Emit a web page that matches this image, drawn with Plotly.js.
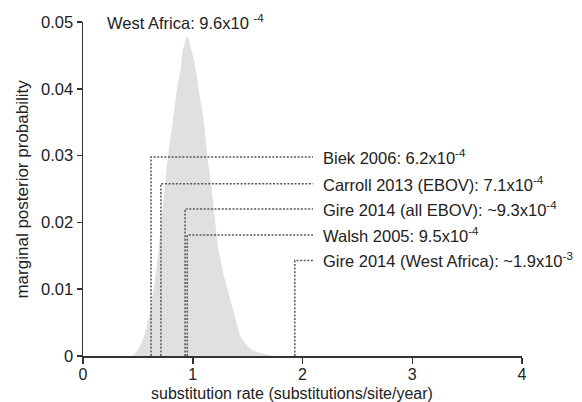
<!DOCTYPE html>
<html>
<head>
<meta charset="utf-8">
<script src="https://cdn.plot.ly/plotly-3.0.1.min.js"></script>
<style>html,body{margin:0;padding:0;background:#fff;}#chart{width:582px;height:402px;}</style>
</head>
<body>
<div id="chart"></div>
<script>
// Posterior density of substitution rate (x1e-3 substitutions/site/year)
const rateX = [0.45, 0.50, 0.556, 0.608, 0.656, 0.686, 0.745, 0.778, 0.82, 0.86, 0.89, 0.905, 0.95, 0.995, 1.03, 1.05, 1.10, 1.13, 1.17, 1.24, 1.294, 1.377, 1.437, 1.54, 1.75];
const densityY = [0, 0.0009, 0.0029, 0.0064, 0.0114, 0.0154, 0.0253, 0.0304, 0.0353, 0.0403, 0.0428, 0.0454, 0.0478, 0.0454, 0.0428, 0.0403, 0.0353, 0.0304, 0.0253, 0.0154, 0.0114, 0.0064, 0.0029, 0.0009, 0];

// Published estimates
const refLabels = [
  "Biek 2006: 6.2x10<sup>-4</sup>",
  "Carroll 2013 (EBOV): 7.1x10<sup>-4</sup>",
  "Gire 2014 (all EBOV): ~9.3x10<sup>-4</sup>",
  "Walsh 2005: 9.5x10<sup>-4</sup>",
  "Gire 2014 (West Africa): ~1.9x10<sup>-3</sup>"
];
const refRates = [0.62, 0.71, 0.93, 0.95, 1.93];

const mainLabel = "West Africa: 9.6x10 <sup>-4</sup>";
const xTitle = "substitution rate (substitutions/site/year)";
const yTitle = "marginal posterior probability";
const xTicks = [0, 1, 2, 3, 4];
const yTicks = [0, 0.01, 0.02, 0.03, 0.04, 0.05];
const yTickText = ["0", "0.01", "0.02", "0.03", "0.04", "0.05"];

// layout constants (label rows and leader line end)
const labelLevels = [0.0298, 0.0258, 0.0220, 0.0181, 0.0143];
const leaderEnd = 2.096;
const labelX = 2.17;

const FONT = "Liberation Sans, Arial, Helvetica, sans-serif";
const INK = "#222";
const traces = [{
  x: rateX, y: densityY, type: "scatter", mode: "lines",
  line: {width: 0, shape: "spline", smoothing: 0.6, color: "#e0e0e0"},
  fill: "tozeroy", fillcolor: "#e0e0e0", hoverinfo: "skip"
}];
refRates.forEach((r, i) => {
  traces.push({
    x: [r, r, leaderEnd], y: [0, labelLevels[i], labelLevels[i]],
    type: "scatter", mode: "lines",
    line: {color: "#555", width: 1.5, dash: "2px,1.6px"},
    hoverinfo: "skip"
  });
});

const annotations = refLabels.map((t, i) => ({
  x: labelX, y: labelLevels[i], xref: "x", yref: "y",
  text: t, showarrow: false, xanchor: "left", yanchor: "middle",
  font: {family: FONT, size: 16.5, color: INK}
}));
annotations.push({
  x: 0.2, y: 0.05, xref: "x", yref: "y", text: mainLabel, showarrow: false,
  xanchor: "left", yanchor: "middle", font: {family: FONT, size: 16.5, color: INK}
});
// axis titles placed as annotations to match the reference offsets
annotations.push({
  x: 1.9, y: -0.112, xref: "x", yref: "paper", text: xTitle, showarrow: false,
  xanchor: "center", yanchor: "middle", font: {family: FONT, size: 16, color: INK}
});
annotations.push({
  x: -0.14, y: 0.5, xref: "paper", yref: "paper", text: yTitle, showarrow: false,
  textangle: -90, xanchor: "center", yanchor: "middle", font: {family: FONT, size: 17, color: INK}
});

const layout = {
  width: 582, height: 402,
  margin: {l: 83, r: 60, t: 22, b: 46},
  paper_bgcolor: "#fff", plot_bgcolor: "#fff",
  showlegend: false,
  font: {family: FONT, size: 16, color: INK},
  xaxis: {
    range: [0, 4], tickvals: xTicks, ticktext: xTicks.map(String),
    showgrid: false, zeroline: false, showline: true, linecolor: "#333", linewidth: 1.5,
    ticks: "outside", ticklen: 6, tickwidth: 1.5, tickcolor: "#333",
    ticklabelstandoff: -3,
    tickfont: {family: FONT, size: 16, color: INK}
  },
  yaxis: {
    range: [0, 0.05], tickvals: yTicks, ticktext: yTickText,
    showgrid: false, zeroline: false, showline: true, linecolor: "#333", linewidth: 1.5,
    ticks: "outside", ticklen: 5, tickwidth: 1.5, tickcolor: "#333",
    tickfont: {family: FONT, size: 16.5, color: INK}
  },
  annotations: annotations
};
Plotly.newPlot("chart", traces, layout, {staticPlot: true, displayModeBar: false});
</script>
</body>
</html>
